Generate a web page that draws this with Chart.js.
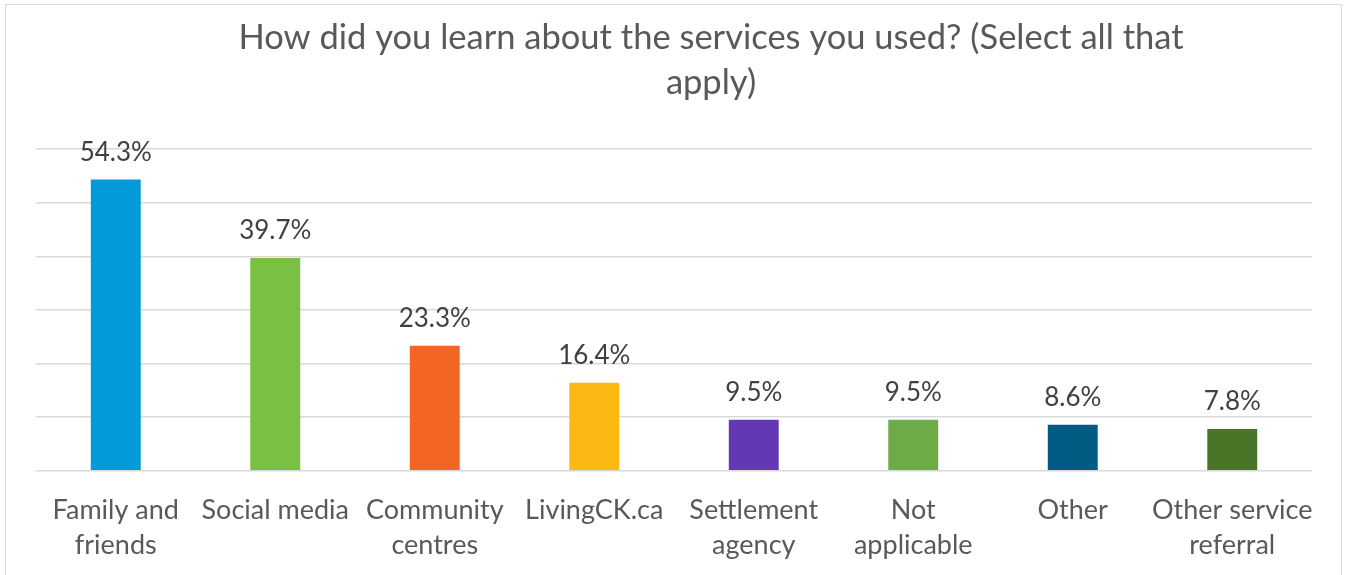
<!DOCTYPE html>
<html>
<head>
<meta charset="utf-8">
<script src="https://cdn.jsdelivr.net/npm/chart.js@4"></script>
<style>
  html, body { margin: 0; padding: 0; background: #fff; overflow: hidden; width: 1347px; height: 575px; }
  .frame {
    position: absolute; left: 5px; top: 4px; width: 1337px; height: 620px;
    border: 1px solid #d9d9d9; box-sizing: border-box;
  }
  canvas { position: absolute; left: 0; top: 0; }
</style>
</head>
<body>
<div class="frame"></div>
<canvas id="learnChart" width="1347" height="590"></canvas>
<script>
const titleLines = ['How did you learn about the services you used? (Select all that', 'apply)'];
const categories = [
  ['Family and', 'friends'],
  'Social media',
  ['Community', 'centres'],
  'LivingCK.ca',
  ['Settlement', 'agency'],
  ['Not', 'applicable'],
  'Other',
  ['Other service', 'referral']
];
const percentages = [54.3, 39.7, 23.3, 16.4, 9.5, 9.5, 8.6, 7.8];
const barColors = ['#0499d8', '#7ac143', '#f26522', '#fdb913', '#6338b5', '#6dab46', '#015b82', '#4a7427'];

const textColor = '#595959';
const fontFamily = 'Lato, "Open Sans", sans-serif';

// two-line heading, sitting a little right of centre
const heading = {
  id: 'heading',
  afterDraw(chart, args, opts) {
    const ctx = chart.ctx;
    ctx.save();
    ctx.font = '34.5px ' + fontFamily;
    ctx.fillStyle = textColor;
    ctx.textAlign = 'center';
    ctx.textBaseline = 'middle';
    titleLines.forEach((line, i) => {
      ctx.fillText(line, opts.x, opts.y + i * opts.lineGap);
    });
    ctx.restore();
  }
};

// writes the value above each bar
const valueLabels = {
  id: 'valueLabels',
  afterDatasetsDraw(chart) {
    const ctx = chart.ctx;
    const meta = chart.getDatasetMeta(0);
    ctx.save();
    ctx.font = '26px ' + fontFamily;
    ctx.fillStyle = '#404040';
    ctx.textAlign = 'center';
    ctx.textBaseline = 'alphabetic';
    meta.data.forEach((bar, i) => {
      ctx.fillText(percentages[i].toFixed(1) + '%', bar.x, bar.y - 19);
    });
    ctx.restore();
  }
};

new Chart(document.getElementById('learnChart'), {
  type: 'bar',
  data: {
    labels: categories,
    datasets: [{
      data: percentages,
      backgroundColor: barColors,
      categoryPercentage: 1,
      barPercentage: 0.313
    }]
  },
  options: {
    responsive: false,
    animation: false,
    layout: { padding: { left: 36, right: 35, top: 149, bottom: 13 } },
    plugins: {
      legend: { display: false },
      tooltip: { enabled: false },
      title: { display: false },
      heading: { x: 711, y: 38, lineGap: 45 }
    },
    scales: {
      x: {
        grid: { display: false },
        border: { display: false },
        ticks: {
          color: textColor,
          font: { family: fontFamily, size: 27, lineHeight: 1.3 },
          maxRotation: 0,
          autoSkip: false,
          padding: 14
        }
      },
      y: {
        min: 0,
        max: 60,
        ticks: { display: false, stepSize: 10 },
        border: { display: false },
        grid: { color: '#d9d9d9', lineWidth: 1.5, drawTicks: false }
      }
    }
  },
  plugins: [heading, valueLabels]
});
</script>
</body>
</html>
